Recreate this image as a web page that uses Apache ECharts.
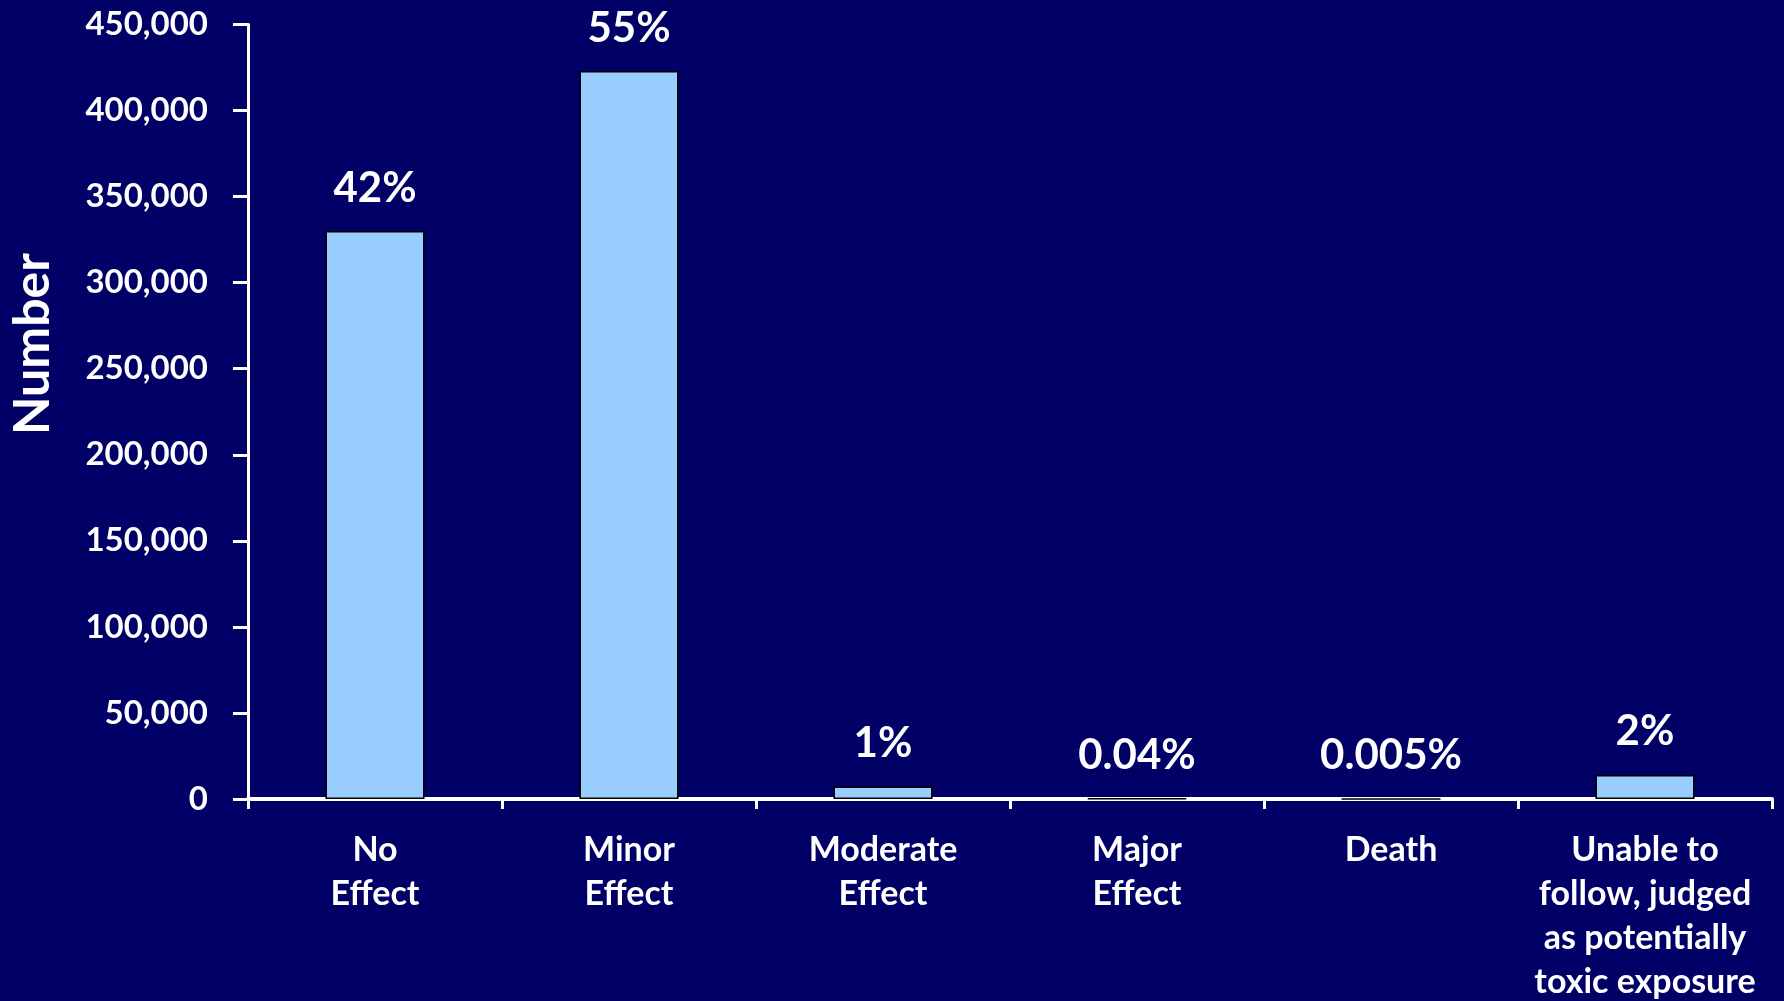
<!DOCTYPE html>
<html>
<head>
<meta charset="utf-8">
<title>Outcome of exposures</title>
<script src="https://cdn.jsdelivr.net/npm/echarts@6/dist/echarts.min.js"></script>
<style>
  html, body { margin: 0; padding: 0; background: #000066; }
  #chart { width: 1784px; height: 1001px; }
</style>
</head>
<body>
<div id="chart"></div>
<script>
// Medical outcome categories
const categories = [
  'No\nEffect',
  'Minor\nEffect',
  'Moderate\nEffect',
  'Major\nEffect',
  'Death',
  'Unable to\nfollow, judged\nas potentially\ntoxic exposure'
];

// Number of exposures per outcome
const counts = [330000, 423000, 7200, 310, 39, 14000];

// Share of all exposures, printed above each bar
const shares = ['42%', '55%', '1%', '0.04%', '0.005%', '2%'];

// Value axis ticks
const yMin = 0;
const yMax = 450000;
const yStep = 50000;

const FONT = 'Lato, "Open Sans", sans-serif';
const WHITE = '#ffffff';

const chart = echarts.init(document.getElementById('chart'), null, { renderer: 'canvas' });

chart.setOption({
  backgroundColor: '#000066',
  animation: false,
  grid: {
    left: 248, right: 12, top: 24.5, bottom: 202,
    containLabel: false,
    outerBoundsMode: 'none'
  },
  xAxis: {
    type: 'category',
    data: categories,
    axisLine: { lineStyle: { color: WHITE, width: 4 } },
    axisTick: { show: true, length: 10, lineStyle: { color: WHITE, width: 3 } },
    axisLabel: {
      color: WHITE,
      fontFamily: FONT,
      fontWeight: 'bold',
      fontSize: 34,
      lineHeight: 44,
      margin: 29,
      interval: 0,
      align: 'center'
    },
    splitLine: { show: false }
  },
  yAxis: {
    type: 'value',
    min: yMin,
    max: yMax,
    interval: yStep,
    axisLine: { show: true, lineStyle: { color: WHITE, width: 3 } },
    axisTick: { show: true, length: 15, lineStyle: { color: WHITE, width: 3 } },
    axisLabel: {
      color: WHITE,
      fontFamily: FONT,
      fontWeight: 'bold',
      fontSize: 33,
      margin: 40,
      formatter: v => v.toLocaleString('en-US')
    },
    splitLine: { show: false }
  },
  graphic: [{
    type: 'text',
    x: 33,
    y: 344,
    rotation: Math.PI / 2,
    style: {
      text: 'Number',
      fill: WHITE,
      font: 'bold 50px ' + FONT,
      textAlign: 'center',
      textVerticalAlign: 'middle'
    }
  }],
  series: [{
    type: 'bar',
    data: counts,
    barWidth: '39%',
    itemStyle: { color: '#99ccff', borderColor: '#000000', borderWidth: 1.5 },
    label: {
      show: true,
      position: 'top',
      distance: 22,
      color: WHITE,
      fontFamily: FONT,
      fontWeight: 'bold',
      fontSize: 42,
      formatter: p => shares[p.dataIndex]
    }
  }]
});
</script>
</body>
</html>
